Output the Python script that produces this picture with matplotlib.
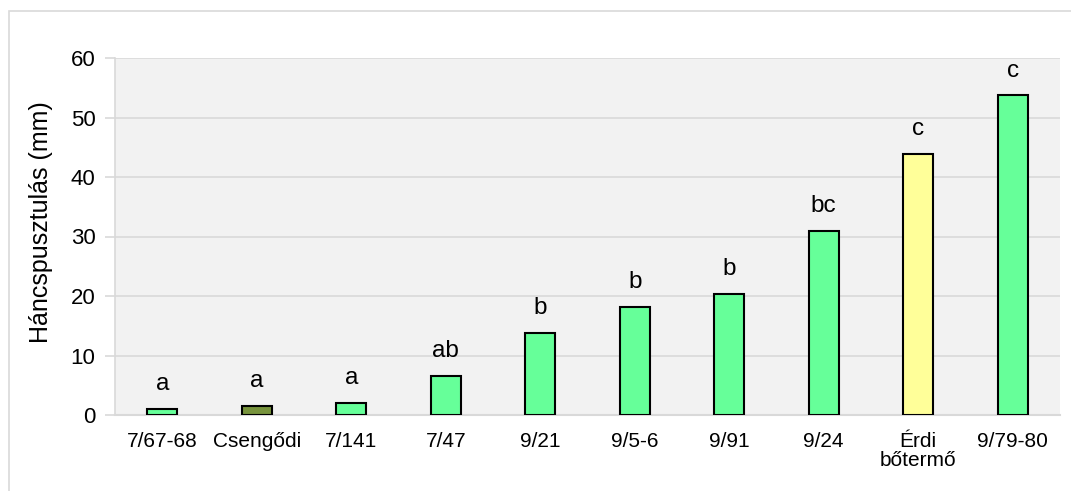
import numpy as np
import matplotlib.pyplot as plt
from matplotlib.patches import Rectangle

plt.rcParams['font.family'] = ['Liberation Sans', 'DejaVu Sans']

# data
categories = ['7/67-68', 'Csengődi', '7/141', '7/47', '9/21', '9/5-6',
              '9/91', '9/24', 'Érdi\nbőtermő', '9/79-80']
values = [1.0, 1.55, 2.0, 6.55, 13.8, 18.1, 20.3, 30.9, 43.9, 53.7]
letters = ['a', 'a', 'a', 'ab', 'b', 'b', 'b', 'bc', 'c', 'c']
colors = ['#66FF99', '#77933C', '#66FF99', '#66FF99', '#66FF99', '#66FF99',
          '#66FF99', '#66FF99', '#FFFF99', '#66FF99']
yticks = [0, 10, 20, 30, 40, 50, 60]

W, H = 1071, 491
fig = plt.figure(figsize=(W/100, H/100), dpi=100)

# outer chart border (light gray, right/bottom cut off)
fig.patches.append(Rectangle((9/W, -0.1), 1.1, 1 - 11/H + 0.1, transform=fig.transFigure,
                             fill=False, edgecolor='#d9d9d9', lw=1.2))

ax = fig.add_axes([115/W, 1 - 415/H, (1060 - 115)/W, (415 - 58)/H])
ax.set_facecolor('#f2f2f2')

x = np.arange(len(categories))
bars = ax.bar(x, values, width=0.32, color=colors, edgecolor='black', lw=1.5, zorder=3)

for xi, v, t in zip(x, values, letters):
    ax.annotate(t, (xi, v), xytext=(0, 10), textcoords='offset points',
                ha='center', va='bottom', fontsize=17.5)

ax.set_xlim(-0.5, len(categories) - 0.5)
ax.set_ylim(0, 60)
ax.set_yticks(yticks)
ax.set_xticks(x)
ax.set_xticklabels(categories, fontsize=15, linespacing=1.0)
ax.tick_params(axis='y', labelsize=16, length=7, color='#d9d9d9', width=1.2, pad=7)
ax.tick_params(axis='x', length=0, pad=12)
ax.grid(axis='y', color='#d9d9d9', lw=1.2, zorder=0)
ax.set_axisbelow(True)

for s in ['top', 'right']:
    ax.spines[s].set_visible(False)
ax.spines['left'].set_color('#d9d9d9')
ax.spines['bottom'].set_color('#d9d9d9')
ax.spines['left'].set_linewidth(1.2)
ax.spines['bottom'].set_linewidth(1.5)

ax.set_ylabel('Háncspusztulás (mm)', fontsize=18)
ax.yaxis.set_label_coords(-0.066, 0.54)

fig.savefig('out.png', dpi=100)
